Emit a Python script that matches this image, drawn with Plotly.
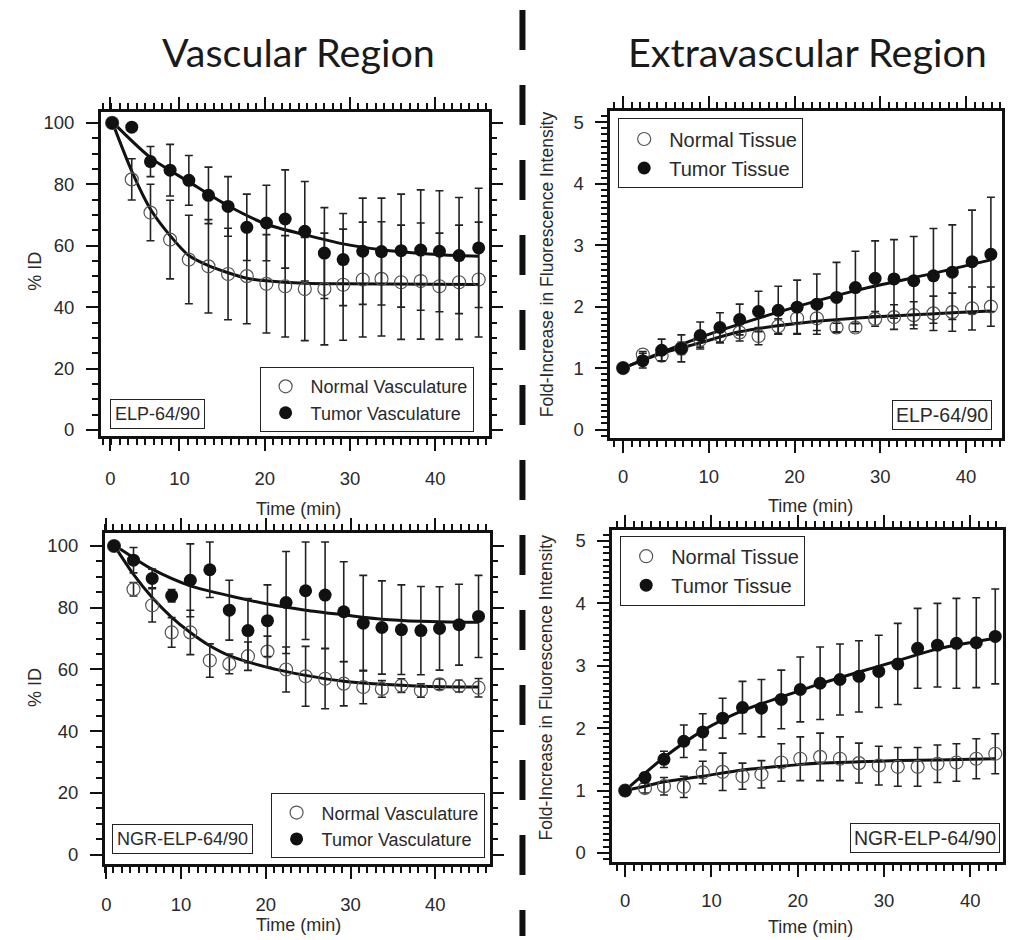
import plotly.graph_objects as go

# ---------------- data ----------------
time_left = [2.1, 4.4, 6.6, 8.9, 11.1, 13.4, 15.7, 17.9, 20.2, 22.4,
             24.7, 27.0, 29.2, 31.5, 33.7, 36.0, 38.3, 40.5, 42.8, 45.1]
time_right = [0.0, 2.3, 4.5, 6.8, 9.0, 11.3, 13.6, 15.8, 18.1, 20.3,
              22.6, 24.9, 27.1, 29.4, 31.6, 33.9, 36.2, 38.4, 40.7, 42.9]

# Top-left: ELP-64/90, vascular (% ID)
tl_normal = [100, 81.6, 70.8, 62.0, 55.5, 53.3, 50.8, 50.1, 47.6, 46.8,
             45.9, 45.9, 47.3, 49.0, 49.2, 48.1, 48.5, 46.8, 48.1, 49.0]
tl_normal_err = [0, 6.7, 9.2, 12.8, 14.4, 15.2, 14.9, 15.5, 16.0, 16.5,
                 16.8, 18.2, 18.1, 18.7, 18.6, 18.6, 18.9, 17.3, 18.6, 18.7]
tl_tumor = [100, 98.6, 87.4, 84.6, 81.3, 76.4, 72.8, 66.0, 67.4, 68.7,
            64.7, 57.6, 55.5, 58.2, 58.1, 58.4, 58.6, 58.2, 56.8, 59.3]
tl_tumor_err = [0, 1.0, 4.9, 8.4, 8.1, 9.2, 9.7, 10.8, 12.3, 16.0,
                16.2, 14.8, 15.0, 17.3, 17.4, 18.4, 19.6, 19.7, 18.9, 19.4]
tl_fit_normal_t = [2.1, 4.4, 6.6, 8.9, 11.1, 13.4, 15.7, 17.9, 20.2, 24.7, 29.2, 45.1]
tl_fit_normal = [100.4, 84.3, 71.9, 63.3, 56.8, 53.5, 51.2, 49.4, 48.6, 47.8, 47.6, 47.4]
tl_fit_tumor_t = [2.1, 6.6, 11.1, 15.7, 20.2, 24.7, 29.2, 33.7, 38.3, 42.8, 45.1]
tl_fit_tumor = [100.4, 88.7, 80.8, 73.0, 67.0, 63.6, 60.6, 58.7, 57.5, 56.8, 56.6]

# Top-right: ELP-64/90, extravascular (fold increase)
tr_normal = [1.0, 1.22, 1.20, 1.32, 1.46, 1.53, 1.58, 1.52, 1.68, 1.81,
             1.81, 1.66, 1.66, 1.80, 1.83, 1.86, 1.89, 1.91, 1.97, 2.00]
tr_normal_err = [0, 0.05, 0.08, 0.10, 0.12, 0.12, 0.14, 0.14, 0.12, 0.25,
                 0.20, 0.07, 0.07, 0.12, 0.20, 0.22, 0.28, 0.31, 0.35, 0.32]
tr_tumor = [1.0, 1.12, 1.29, 1.32, 1.53, 1.66, 1.79, 1.92, 1.94, 1.99,
            2.04, 2.15, 2.31, 2.46, 2.45, 2.42, 2.50, 2.56, 2.73, 2.85]
tr_tumor_err = [0, 0.12, 0.18, 0.22, 0.22, 0.24, 0.25, 0.33, 0.39, 0.44,
                0.49, 0.57, 0.59, 0.61, 0.64, 0.72, 0.77, 0.77, 0.84, 0.93]
tr_fit_normal_t = [0.0, 4.5, 9.0, 13.6, 22.6, 31.6, 42.9]
tr_fit_normal = [1.0, 1.24, 1.41, 1.59, 1.76, 1.85, 1.93]
tr_fit_tumor_t = [0.0, 9.0, 18.1, 27.1, 36.2, 42.9]
tr_fit_tumor = [1.0, 1.50, 1.91, 2.26, 2.54, 2.76]

# Bottom-left: NGR-ELP-64/90, vascular (% ID)
bl_normal = [100, 86.0, 80.8, 72.0, 72.0, 62.9, 61.8, 64.3, 65.8, 60.0,
             57.8, 57.0, 55.4, 54.3, 53.7, 54.8, 53.2, 55.2, 54.6, 54.1]
bl_normal_err = [0, 2.2, 5.4, 4.8, 7.2, 5.4, 3.2, 4.6, 5.0, 7.3,
                 9.7, 9.7, 7.2, 5.4, 2.7, 2.2, 2.2, 1.7, 1.9, 3.0]
bl_tumor = [100, 95.4, 89.5, 83.9, 88.9, 92.3, 79.2, 72.6, 75.8, 81.7,
            85.5, 84.1, 78.7, 75.0, 73.6, 72.9, 72.6, 73.3, 74.5, 77.2]
bl_tumor_err = [0, 4.1, 3.0, 2.0, 11.8, 9.0, 9.7, 10.4, 11.6, 16.5,
                15.8, 17.2, 16.2, 15.5, 15.1, 14.5, 14.3, 13.5, 13.1, 13.3]
bl_fit_normal_t = [2.1, 4.4, 6.6, 8.9, 11.1, 13.4, 15.7, 20.2, 24.7, 29.2, 33.7, 38.3, 45.1]
bl_fit_normal = [100.3, 90.8, 83.3, 76.9, 72.0, 67.7, 64.5, 60.7, 58.1, 56.2, 55.2, 54.6, 54.3]
bl_fit_tumor_t = [2.1, 4.4, 6.6, 11.1, 15.7, 20.2, 24.7, 29.2, 33.7, 38.3, 42.8, 45.1]
bl_fit_tumor = [100.3, 96.2, 92.5, 87.1, 83.9, 81.2, 79.2, 77.7, 76.3, 75.6, 75.3, 75.3]

# Bottom-right: NGR-ELP-64/90, extravascular (fold increase)
br_normal = [1.0, 1.04, 1.07, 1.06, 1.29, 1.30, 1.23, 1.26, 1.45, 1.51,
             1.54, 1.51, 1.44, 1.40, 1.38, 1.38, 1.43, 1.45, 1.51, 1.59]
br_normal_err = [0, 0.08, 0.14, 0.17, 0.18, 0.30, 0.21, 0.22, 0.30, 0.35,
                 0.38, 0.35, 0.32, 0.31, 0.31, 0.31, 0.30, 0.30, 0.32, 0.32]
br_tumor = [1.0, 1.21, 1.50, 1.79, 1.94, 2.16, 2.33, 2.32, 2.46, 2.62,
            2.72, 2.78, 2.83, 2.91, 3.03, 3.28, 3.33, 3.36, 3.37, 3.47]
br_tumor_err = [0, 0.08, 0.13, 0.26, 0.29, 0.32, 0.42, 0.46, 0.47, 0.52,
                0.58, 0.57, 0.57, 0.58, 0.65, 0.64, 0.67, 0.72, 0.72, 0.76]
br_fit_normal_t = [0.0, 2.3, 4.5, 9.0, 13.6, 18.1, 22.6, 27.1, 31.6, 36.2, 42.9]
br_fit_normal = [1.0, 1.07, 1.14, 1.23, 1.33, 1.39, 1.44, 1.46, 1.48, 1.49, 1.51]
br_fit_tumor_t = [0.0, 4.5, 9.0, 13.6, 18.1, 22.6, 27.1, 31.6, 36.2, 42.9]
br_fit_tumor = [1.0, 1.53, 1.96, 2.28, 2.50, 2.71, 2.90, 3.08, 3.27, 3.44]

left_xticks = ["0", "10", "20", "30", "40"]
right_xticks = ["0", "10", "20", "30", "40"]

# ---------------- styling ----------------
FONT = "Liberation Sans, Arial, sans-serif"
INK = "#111111"
TXT = "#2a2a2a"
W, H = 1013, 940

fig = go.Figure()

panels = [
    dict(ax="", t=time_left, n=tl_normal, ne=tl_normal_err, tu=tl_tumor, te=tl_tumor_err,
         fnt=tl_fit_normal_t, fn=tl_fit_normal, ftt=tl_fit_tumor_t, ft=tl_fit_tumor,
         names=("Normal Vasculature", "Tumor Vasculature"), legend="legend"),
    dict(ax="2", t=time_right, n=tr_normal, ne=tr_normal_err, tu=tr_tumor, te=tr_tumor_err,
         fnt=tr_fit_normal_t, fn=tr_fit_normal, ftt=tr_fit_tumor_t, ft=tr_fit_tumor,
         names=("Normal Tissue", "Tumor Tissue"), legend="legend2"),
    dict(ax="3", t=time_left, n=bl_normal, ne=bl_normal_err, tu=bl_tumor, te=bl_tumor_err,
         fnt=bl_fit_normal_t, fn=bl_fit_normal, ftt=bl_fit_tumor_t, ft=bl_fit_tumor,
         names=("Normal Vasculature", "Tumor Vasculature"), legend="legend3"),
    dict(ax="4", t=time_right, n=br_normal, ne=br_normal_err, tu=br_tumor, te=br_tumor_err,
         fnt=br_fit_normal_t, fn=br_fit_normal, ftt=br_fit_tumor_t, ft=br_fit_tumor,
         names=("Normal Tissue", "Tumor Tissue"), legend="legend4"),
]

for p in panels:
    xa, ya = "x" + p["ax"], "y" + p["ax"]
    line = dict(color=INK, width=3, shape="spline", smoothing=0.8)
    fig.add_trace(go.Scatter(x=p["fnt"], y=p["fn"], mode="lines", line=line,
                             xaxis=xa, yaxis=ya, showlegend=False, hoverinfo="skip"))
    fig.add_trace(go.Scatter(x=p["ftt"], y=p["ft"], mode="lines", line=line,
                             xaxis=xa, yaxis=ya, showlegend=False, hoverinfo="skip"))
    err = dict(type="data", symmetric=True, thickness=1.6, width=4, color="#222222")
    fig.add_trace(go.Scatter(
        x=p["t"], y=p["n"], mode="markers", name=p["names"][0], legend=p["legend"],
        marker=dict(symbol="circle-open", size=13, color="#555555", line=dict(width=1.2)),
        error_y=dict(err, array=p["ne"]), xaxis=xa, yaxis=ya))
    fig.add_trace(go.Scatter(
        x=p["t"], y=p["tu"], mode="markers", name=p["names"][1], legend=p["legend"],
        marker=dict(symbol="circle", size=13, color=INK),
        error_y=dict(err, array=p["te"]), xaxis=xa, yaxis=ya))

axis_common = dict(showline=True, linecolor=INK, linewidth=2.5, ticks="outside",
                   ticklen=12, tickwidth=2, tickcolor=INK, showgrid=False, zeroline=False,
                   tickfont=dict(family=FONT, size=18.5, color=TXT))
minor_common = dict(ticks="outside", ticklen=6, tickwidth=1.5, tickcolor=INK, showgrid=False)


def dom_x(a, b):
    return [a / W, b / W]


def dom_y(top, bottom):
    return [1 - bottom / H, 1 - top / H]


fig.update_layout(
    xaxis=dict(axis_common, domain=dom_x(98, 487), anchor="y", range=[0.76, 46.26],
               tickmode="array", tickvals=[1.9, 10, 20, 30, 40], ticktext=left_xticks,
               mirror="allticks", ticklabelstandoff=12,
               minor=dict(minor_common, tickmode="linear", tick0=0, dtick=1)),
    yaxis=dict(axis_common, domain=dom_y(112, 438), anchor="x", range=[-2.0, 103.7],
               tick0=0, dtick=20, mirror="allticks", ticklabelstandoff=8,
               minor=dict(minor_common, dtick=5)),
    xaxis2=dict(axis_common, domain=dom_x(609, 1002), anchor="y2", range=[-1.5, 44.2],
                tickmode="array", tickvals=[0, 10, 20, 30, 40], ticktext=right_xticks,
                mirror="allticks", ticklabelstandoff=8,
                minor=dict(minor_common, tickmode="linear", tick0=0, dtick=1)),
    yaxis2=dict(axis_common, domain=dom_y(111, 440), anchor="x2", range=[-0.14, 5.19],
                tick0=0, dtick=1, mirror=True, ticklabelstandoff=8,
                minor=dict(minor_common, dtick=0.1)),
    xaxis3=dict(axis_common, domain=dom_x(102, 488), anchor="y3", range=[1.0, 46.4],
                tickmode="array", tickvals=[1.2, 10, 20, 30, 40], ticktext=left_xticks,
                mirror="allticks", ticklabelstandoff=10,
                minor=dict(minor_common, tickmode="linear", tick0=0, dtick=1)),
    yaxis3=dict(axis_common, domain=dom_y(535, 868), anchor="x3", range=[-3.1, 104.3],
                tick0=0, dtick=20, mirror="allticks", ticklabelstandoff=8,
                minor=dict(minor_common, dtick=5)),
    xaxis4=dict(axis_common, domain=dom_x(611, 1003), anchor="y4", range=[-1.5, 43.8],
                tickmode="array", tickvals=[0, 10, 20, 30, 40], ticktext=right_xticks,
                mirror="allticks", ticklabelstandoff=8,
                minor=dict(minor_common, tickmode="linear", tick0=0, dtick=1)),
    yaxis4=dict(axis_common, domain=dom_y(532, 866), anchor="x4", range=[-0.15, 5.18],
                tick0=0, dtick=1, mirror=True, ticklabelstandoff=8,
                minor=dict(minor_common, dtick=0.1)),
)

leg_common = dict(bgcolor="white", bordercolor="#222222", borderwidth=1,
                  font=dict(family=FONT, size=18, color=TXT), itemwidth=40,
                  tracegroupgap=0, traceorder="normal")
leg_big = dict(leg_common, font=dict(family=FONT, size=20, color=TXT))
fig.update_layout(
    legend=dict(leg_common, x=472 / W, y=1 - 434 / H, xanchor="right", yanchor="bottom"),
    legend2=dict(leg_big, x=617 / W, y=1 - 119 / H, xanchor="left", yanchor="top"),
    legend3=dict(leg_common, x=483 / W, y=1 - 862 / H, xanchor="right", yanchor="bottom"),
    legend4=dict(leg_big, x=619 / W, y=1 - 538 / H, xanchor="left", yanchor="top"),
)

ann = []
box = dict(xref="paper", yref="paper", showarrow=False, bordercolor="#222222", borderwidth=1,
           borderpad=4, bgcolor="white", font=dict(family=FONT, size=18, color=TXT))
box_big = dict(box, font=dict(family=FONT, size=19.5, color=TXT), borderpad=3)
ann.append(dict(box, text="ELP-64/90", x=107 / W, y=1 - 431 / H, xanchor="left", yanchor="bottom"))
ann.append(dict(box_big, text="ELP-64/90", x=992 / W, y=1 - 432 / H, xanchor="right", yanchor="bottom"))
ann.append(dict(box, text="NGR-ELP-64/90", x=109 / W, y=1 - 858 / H, xanchor="left", yanchor="bottom"))
ann.append(dict(box_big, text="NGR-ELP-64/90", x=1000 / W, y=1 - 857 / H, xanchor="right", yanchor="bottom"))

lab = dict(xref="paper", yref="paper", showarrow=False, font=dict(family=FONT, size=18, color=TXT))
for cx, cy in [(296, 511), (810, 508), (296, 929), (810, 931)]:
    ann.append(dict(lab, text="Time (min)", x=cx / W, y=1 - cy / H, xanchor="center", yanchor="middle"))
for cy in [272, 690]:
    ann.append(dict(lab, text="% ID", x=32 / W, y=1 - cy / H, textangle=-90,
                    xanchor="center", yanchor="middle"))
for cy in [265, 690]:
    ann.append(dict(lab, text="Fold-Increase in Fluorescence Intensity", x=545 / W, y=1 - cy / H,
                    textangle=-90, xanchor="center", yanchor="middle",
                    font=dict(family=FONT, size=17.5, color=TXT)))

ttl = dict(xref="paper", yref="paper", showarrow=False,
           font=dict(family="Lato, Open Sans, sans-serif", size=39.5, color="#1a1a1a"))
ann.append(dict(ttl, text="Vascular Region", x=296 / W, y=1 - 52 / H, xanchor="center", yanchor="middle"))
ann.append(dict(ttl, text="Extravascular Region", x=807 / W, y=1 - 52 / H, xanchor="center", yanchor="middle"))

fig.update_layout(annotations=ann)

fig.add_shape(type="line", xref="paper", yref="paper", x0=521 / W, x1=521 / W,
              y0=1 - 10 / H, y1=0, line=dict(color=INK, width=6, dash="40px,35px"))

fig.update_layout(width=W, height=H, margin=dict(l=0, r=0, t=0, b=0),
                  paper_bgcolor="white", plot_bgcolor="white", showlegend=True)

fig.write_html("out.html", config={"displayModeBar": False},
               post_script="document.body.style.margin='0px';document.body.style.overflow='hidden';")
